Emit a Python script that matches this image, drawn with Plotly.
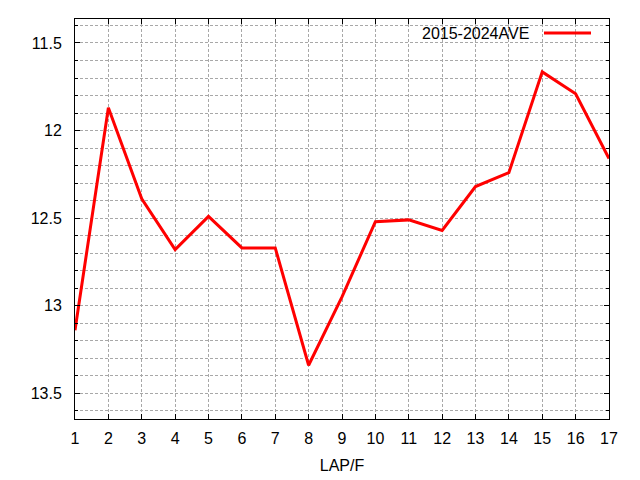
import plotly.graph_objects as go

laps = list(range(1, 18))
ave_2015_2024 = [13.14, 11.87, 12.39, 12.68, 12.49, 12.67, 12.67, 13.34, 12.95,
                 12.52, 12.51, 12.57, 12.32, 12.24, 11.665, 11.79, 12.16]
series_name = "2015-2024AVE"
y_major = [11.5, 12, 12.5, 13, 13.5]
y_major_text = ["11.5", "12", "12.5", "13", "13.5"]

FONT = "Liberation Sans, Arial, sans-serif"
GRID = "#a8a8a8"

fig = go.Figure()
fig.add_trace(go.Scatter(x=laps, y=ave_2015_2024, mode="lines", name=series_name,
                         line=dict(color="#ff0000", width=3), showlegend=False))

fig.update_layout(
    width=640, height=480,
    margin=dict(l=75, r=31, t=19, b=61),
    paper_bgcolor="white", plot_bgcolor="white",
    font=dict(family=FONT, size=16, color="black"),
    xaxis=dict(range=[1, 17], tickmode="array", tickvals=laps,
               ticktext=[str(v) for v in laps], automargin=False,
               ticks="inside", ticklen=5, tickcolor="black", mirror="ticks",
               showline=True, linecolor="black", linewidth=1,
               showgrid=True, gridcolor=GRID, griddash="3px,2px", gridwidth=1,
               zeroline=False, ticklabelstandoff=5,
               title=dict(text="LAP/F", standoff=13, font=dict(size=16))),
    yaxis=dict(range=[13.647, 11.363], tickmode="array", tickvals=y_major,
               ticktext=y_major_text, automargin=False,
               ticks="inside", ticklen=5, tickcolor="black", mirror="ticks",
               showline=True, linecolor="black", linewidth=1,
               showgrid=True, gridcolor=GRID, griddash="3px,2px", gridwidth=1,
               zeroline=False, ticklabelstandoff=9,
               minor=dict(tickmode="linear", tick0=11.4, dtick=0.1, ticks="inside",
                          ticklen=3, tickcolor="black", showgrid=True,
                          gridcolor=GRID, griddash="3px,2px", gridwidth=1)),
)

# gnuplot-style key: text on left, line sample on right
fig.add_annotation(xref="paper", yref="paper", x=(531 - 75) / 534, y=(419 - 33) / 400,
                   text=series_name, showarrow=False, xanchor="right", yanchor="middle",
                   font=dict(size=16, family=FONT, color="black"))
fig.add_shape(type="line", xref="paper", yref="paper",
              x0=(544 - 75) / 534, x1=(591 - 75) / 534,
              y0=(419 - 33) / 400, y1=(419 - 33) / 400,
              line=dict(color="#ff0000", width=3))

fig.write_html("out.html", config={"displayModeBar": False},
               post_script="document.body.style.margin='0';")
